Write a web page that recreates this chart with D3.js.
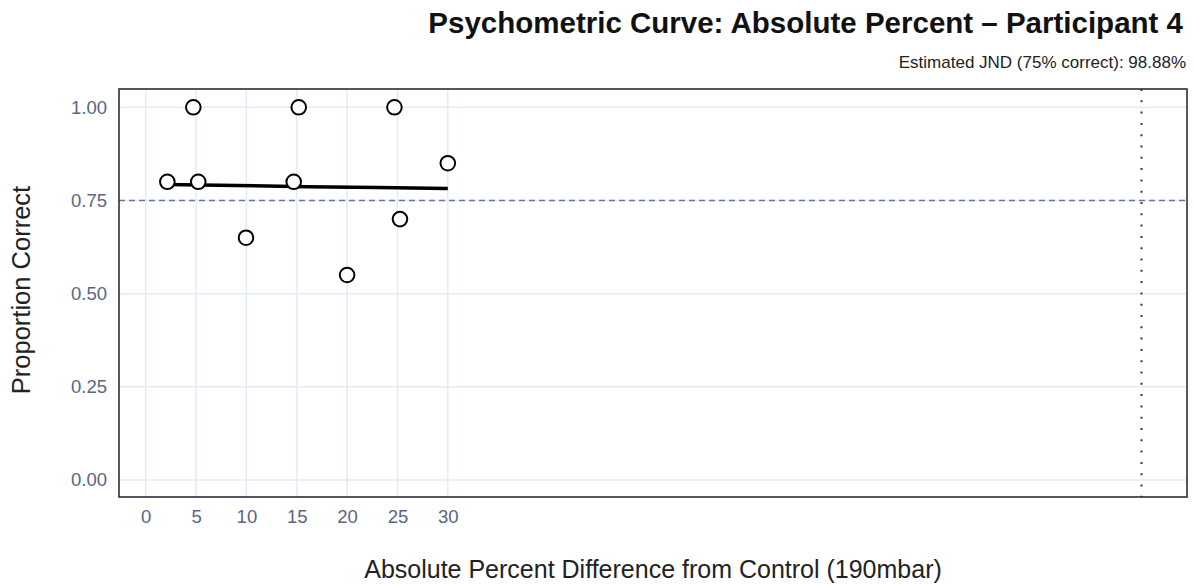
<!DOCTYPE html>
<html><head><meta charset="utf-8">
<script src="https://cdn.jsdelivr.net/npm/d3@7"></script>
<style>body{margin:0;background:#fff}svg{display:block}text{font-family:"Liberation Sans",Arial,sans-serif}</style>
</head><body><svg id="c" width="1193" height="585"></svg>
<script>
const pointX = [2.15, 4.73, 5.22, 9.96, 14.7, 15.2, 20.0, 24.7, 25.25, 30.0];
const pointY = [0.80, 1.00, 0.80, 0.65, 0.80, 1.00, 0.55, 1.00, 0.70, 0.85];
const fitX = [2, 9, 16, 23, 30];
const fitY = [0.793, 0.790, 0.787, 0.785, 0.782];
const xTicks = [0, 5, 10, 15, 20, 25, 30];
const yTicks = [0, 0.25, 0.5, 0.75, 1.0];
const threshold = 0.75;
const jnd = 98.88;
const titleText = "Psychometric Curve: Absolute Percent \u2013 Participant 4";
const subtitleText = "Estimated JND (75% correct): 98.88%";
const xTitle = "Absolute Percent Difference from Control (190mbar)";
const yTitle = "Proportion Correct";

const svg = d3.select("#c");
const L = 119, R = 1187, T = 89, B = 497;
const x = d3.scaleLinear().domain([-2.65, 103.4]).range([L, R]);
const y = d3.scaleLinear().domain([-0.0456, 1.049]).range([B, T]);

const grid = svg.append("g");
grid.selectAll(".gx").data(xTicks).join("line")
  .attr("x1", d => x(d)).attr("x2", d => x(d)).attr("y1", T).attr("y2", B)
  .attr("stroke", "#E3EAF8").attr("stroke-width", 1.5);
grid.selectAll(".gy").data(yTicks).join("line")
  .attr("x1", L).attr("x2", R).attr("y1", d => y(d)).attr("y2", d => y(d))
  .attr("stroke", "#E3EAF8").attr("stroke-width", 1.5);

// axes (labels only)
const xa = svg.append("g").attr("transform", `translate(0,${B})`)
  .call(d3.axisBottom(x).tickValues(xTicks).tickSize(0).tickPadding(13).tickFormat(d3.format("d")));
const ya = svg.append("g").attr("transform", `translate(${L},0)`)
  .call(d3.axisLeft(y).tickValues(yTicks).tickSize(0).tickPadding(12).tickFormat(d3.format(".2f")));
[xa, ya].forEach(a => {
  a.select(".domain").remove();
  a.selectAll("text").attr("fill", "#5a6680").style("font-size", "18.5px").style("font-family", "'Liberation Sans',Arial,sans-serif");
});

// reference lines
svg.append("line").attr("x1", L).attr("x2", R).attr("y1", y(threshold)).attr("y2", y(threshold))
  .attr("stroke", "#6a7896").attr("stroke-width", 1.5).attr("stroke-dasharray", "6,4");
svg.append("line").attr("x1", x(jnd)).attr("x2", x(jnd)).attr("y1", T).attr("y2", B)
  .attr("stroke", "#333a48").attr("stroke-width", 2).attr("stroke-dasharray", "2,9.3");

// fit line
svg.append("path").datum(fitX.map((d, i) => [d, fitY[i]]))
  .attr("d", d3.line().x(d => x(d[0])).y(d => y(d[1])))
  .attr("fill", "none").attr("stroke", "#000").attr("stroke-width", 3.5);

// points
svg.selectAll(".pt").data(pointX.map((d, i) => [d, pointY[i]])).join("circle")
  .attr("cx", d => x(d[0])).attr("cy", d => y(d[1])).attr("r", 7.3)
  .attr("fill", "#fff").attr("stroke", "#000").attr("stroke-width", 2);

// frame
svg.append("rect").attr("x", L).attr("y", T).attr("width", R - L).attr("height", B - T)
  .attr("fill", "none").attr("stroke", "#2b2f3a").attr("stroke-width", 1.6);

// titles
svg.append("text").attr("x", 1183).attr("y", 33).attr("text-anchor", "end")
  .style("font-size", "29.5px").style("font-weight", "bold").attr("fill", "#111").text(titleText);
svg.append("text").attr("x", 1186).attr("y", 68).attr("text-anchor", "end")
  .style("font-size", "17px").attr("fill", "#222").text(subtitleText);
svg.append("text").attr("x", (L + R) / 2).attr("y", 578).attr("text-anchor", "middle")
  .style("font-size", "25px").attr("fill", "#222").text(xTitle);
svg.append("text").attr("transform", "translate(30,290) rotate(-90)").attr("text-anchor", "middle")
  .style("font-size", "25.5px").attr("fill", "#222").text(yTitle);
</script></body></html>
